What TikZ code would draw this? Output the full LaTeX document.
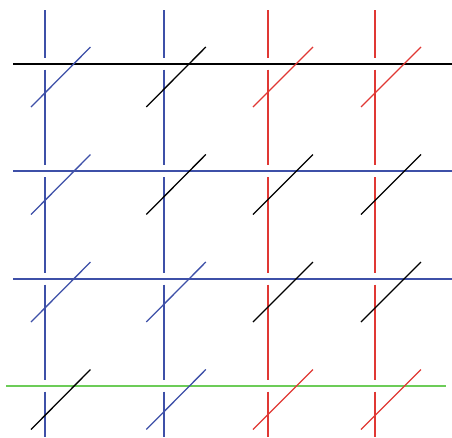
\documentclass[tikz,border=0pt]{standalone}
\usepackage{xcolor}
\usepackage{tikz}
\definecolor{wireblue}{RGB}{62,80,168}
\definecolor{wirered}{RGB}{224,56,52}
\definecolor{wiregreen}{RGB}{108,204,88}
\tikzset{
  wire/.style={line width=2pt},
  rung/.style={line width=1.3pt}
}

\begin{document}
\begin{tikzpicture}[x=1pt,y=-1pt]
    \useasboundingbox (0,0) rectangle (452,437);
    % 竖线（在横线处断开）
    \foreach \cx/\cc [count=\k] in {45/wireblue,164/wireblue,267.7/wirered,375.3/wirered} {
      \coordinate (top\k) at (\cx,10);
      \draw[wire,\cc] (top\k) -- (\cx,57.5);
      \foreach \ya/\yb in {69.5/165,177/272.5,284.5/380,391.5/437}
        \draw[wire,\cc] (\cx,\ya) -- (\cx,\yb);
    }
    % 横线
    \draw[wire,black] (13,63.5) -- (452,63.5);
    \draw[wire,wireblue] (13,171) -- (452,171);
    \draw[wire,wireblue] (13,278.7) -- (452,278.7);
    \draw[wire,wiregreen] (6,385.7) -- (446,385.7);
    % 斜线
    \foreach \yb/\ca/\cb/\cc/\cd in {107/wireblue/black/wirered/wirered,
                                   214.5/wireblue/black/black/black,
                                   322/wireblue/wireblue/black/black,
                                   429.5/black/wireblue/wirered/wirered} {
      \draw[rung,\ca] (31,\yb) -- ++(59.5,-60);
      \draw[rung,\cb] (146.3,\yb) -- ++(59.5,-60);
      \draw[rung,\cc] (253,\yb) -- ++(60,-60);
      \draw[rung,\cd] (361,\yb) -- ++(60,-60);
    }
  \end{tikzpicture}
\end{document}
